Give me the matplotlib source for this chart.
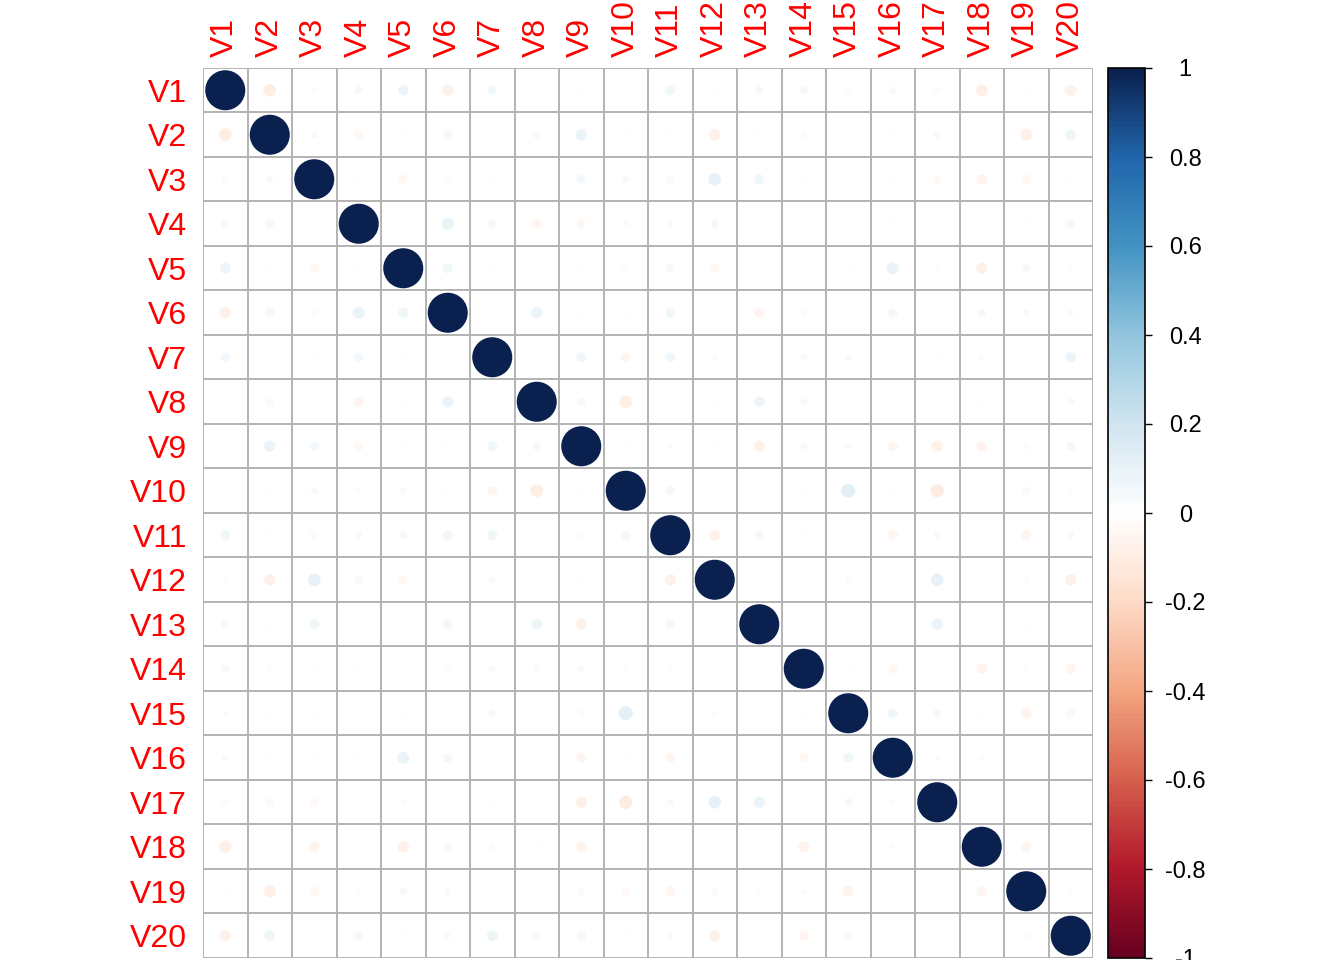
import numpy as np
import matplotlib
matplotlib.use('Agg')
from matplotlib import pyplot as plt
from matplotlib.colors import LinearSegmentedColormap, Normalize
from matplotlib.patches import Circle
import matplotlib.colorbar as mcolorbar

plt.rcParams['font.family'] = ['Liberation Sans', 'DejaVu Sans']

LABELS = ['V%d' % i for i in range(1, 21)]

# upper triangle of the correlation matrix, row Vi holds columns V(i+1)..V20
UPPER = [
    [-0.10, -0.03, 0.04, 0.07, -0.08, 0.05, 0.01, 0.01, 0.005, 0.06, -0.02, 0.04, 0.04, 0.02, 0.03, -0.03, -0.09, 0.01, -0.08],
    [0.03, -0.05, -0.02, 0.05, 0.005, -0.04, 0.08, -0.02, -0.02, -0.08, -0.02, -0.03, 0.01, -0.02, -0.04, -0.01, -0.09, 0.07],
    [0.01, -0.05, -0.03, 0.01, 0.005, 0.05, 0.03, -0.04, 0.10, 0.06, 0.01, 0.01, 0.01, -0.04, -0.07, -0.05, 0.01],
    [0.01, 0.09, 0.05, -0.06, -0.05, 0.02, 0.03, 0.04, -0.02, 0.01, 0.01, -0.02, 0.005, 0.005, -0.02, 0.05],
    [0.06, 0.01, 0.01, 0.01, -0.03, 0.04, -0.05, 0.01, 0.005, -0.02, 0.09, 0.02, -0.08, 0.04, -0.02],
    [0.01, 0.08, -0.02, -0.02, 0.06, 0.01, -0.06, -0.03, 0.005, 0.05, 0.005, 0.04, 0.03, -0.03],
    [0.005, 0.06, -0.06, 0.06, -0.03, 0.01, 0.03, 0.03, 0.005, 0.01, -0.03, 0.005, 0.07],
    [0.04, -0.10, -0.01, 0.01, 0.07, 0.03, 0.005, 0.005, 0.01, -0.02, 0.005, 0.03],
    [0.01, 0.02, -0.02, -0.08, 0.03, -0.03, -0.06, -0.08, -0.07, -0.03, 0.05],
    [0.05, 0.005, 0.005, -0.02, 0.12, -0.02, -0.11, 0.005, -0.04, -0.02],
    [-0.08, 0.05, -0.02, 0.005, -0.06, 0.03, 0.005, -0.06, 0.03],
    [0.01, 0.005, 0.02, 0.005, 0.10, 0.005, -0.03, -0.08],
    [0.005, -0.01, 0.005, 0.08, 0.005, -0.02, 0.01],
    [-0.02, -0.05, 0.005, -0.07, 0.02, -0.06],
    [0.06, 0.04, 0.01, -0.07, -0.05],
    [0.02, 0.02, 0.005, 0.005],
    [0.005, 0.005, 0.005],
    [-0.06, 0.01],
    [0.02],
]

CB_TICKS = [-1, -0.8, -0.6, -0.4, -0.2, 0, 0.2, 0.4, 0.6, 0.8, 1]
CB_LABELS = ['-1', '-0.8', '-0.6', '-0.4', '-0.2', '0', '0.2', '0.4', '0.6', '0.8', '1']

RDBU = ["#67001F", "#B2182B", "#D6604D", "#F4A582", "#FDDBC7", "#FFFFFF",
        "#D1E5F0", "#92C5DE", "#4393C3", "#2166AC", "#0A214F"]
cmap = LinearSegmentedColormap.from_list('corr', RDBU, N=200)
norm = Normalize(-1, 1)

n = len(LABELS)
corr = np.eye(n)
for i, row in enumerate(UPPER):
    for k, v in enumerate(row):
        corr[i, i + 1 + k] = v
        corr[i + 1 + k, i] = v

W, H = 1344, 960
fig = plt.figure(figsize=(W / 100, H / 100), dpi=100)
ax = fig.add_axes([203 / W, (H - 958) / H, 890 / W, 890 / H])
ax.set_xlim(0.5, n + 0.5)
ax.set_ylim(n + 0.5, 0.5)

grid_col = '#b3b3b3'
for k in np.arange(0.5, n + 1):
    ax.axhline(k, color=grid_col, lw=1.4, zorder=1)
    ax.axvline(k, color=grid_col, lw=1.4, zorder=1)

for i in range(n):
    for j in range(n):
        r = corr[i, j]
        ax.add_patch(Circle((j + 1, i + 1), 0.45 * np.sqrt(abs(r)),
                            facecolor=cmap(norm(r)), edgecolor='none', zorder=2))

for s in ax.spines.values():
    s.set_visible(False)
ax.xaxis.tick_top()
ax.set_xticks(range(1, n + 1))
ax.set_xticklabels(LABELS, rotation=90, color='red', fontsize=23)
ax.set_yticks(range(1, n + 1))
ax.set_yticklabels(LABELS, color='red', fontsize=23)
ax.tick_params(axis='x', length=0, pad=8)
ax.tick_params(axis='y', length=0, pad=11.5)

# colour legend
cax = fig.add_axes([1108 / W, (H - 958) / H, 37 / W, 890 / H])
cb = mcolorbar.ColorbarBase(cax, cmap=cmap, norm=norm, orientation='vertical')
cb.outline.set_linewidth(1.2)
cb.set_ticks(CB_TICKS)
cb.set_ticklabels(CB_LABELS)
cax.tick_params(length=5, width=1, pad=24, labelsize=17)
for t in cax.get_yticklabels():
    t.set_ha('center')

plt.savefig('out.png', dpi=100)
